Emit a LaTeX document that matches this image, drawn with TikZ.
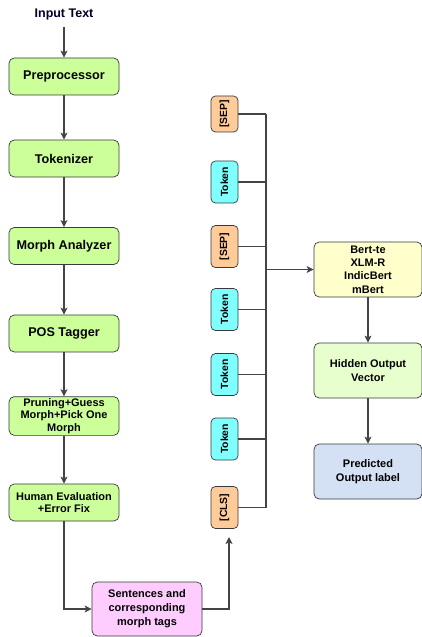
\documentclass[tikz,border=0pt]{standalone}
\usepackage{fontspec}
\setmainfont{Liberation Sans}
\usetikzlibrary{arrows.meta, positioning}
\definecolor{mdraw}{HTML}{36393D}
\definecolor{mline}{HTML}{444444}
\definecolor{mgreen}{HTML}{CCFF99}
\definecolor{mcyan}{HTML}{80FFFF}
\definecolor{morange}{HTML}{FFCC99}
\definecolor{mpink}{HTML}{FFCCFF}
\definecolor{myellow}{HTML}{FFFFCC}
\definecolor{mlightgreen}{HTML}{E6FFCC}
\definecolor{mblue}{HTML}{D4E1F5}
\tikzset{
  gbox/.style={draw=mdraw, fill=mgreen, rounded corners=3pt, align=center,
               minimum width=2.2cm, minimum height=0.74cm, inner sep=1pt,
               font=\fontsize{7.2}{8.6}\selectfont\bfseries},
  sgbox/.style={gbox, font=\fontsize{6.25}{7.1}\selectfont\bfseries},
  tbox/.style={draw=mdraw, fill=mcyan, rounded corners=2.5pt, rotate=90,
               minimum width=0.84cm, minimum height=0.54cm, inner sep=1pt,
               font=\fontsize{5.9}{7}\selectfont\bfseries},
  sepbox/.style={tbox, fill=morange},
  rbox/.style={draw=mdraw, rounded corners=3pt, align=center,
               minimum width=2.16cm, minimum height=1.1cm, inner sep=1pt,
               font=\fontsize{6.25}{7.6}\selectfont\bfseries},
  arr/.style={-{Stealth[length=4pt, width=4pt, inset=1pt]}, line width=0.6pt, mline},
  ln/.style={line width=0.6pt, mline},
}
\begin{document}
\begin{tikzpicture}
    \useasboundingbox (0,0) rectangle (8.44,-12.74);
    % left column
    \node[font=\fontsize{7.1}{8.5}\selectfont\bfseries, text=black!85!blue] (in) at (1.28,-0.30) {Input Text};
    \node[gbox] (pre) at (1.28,-1.53) {Preprocessor};
    \node[gbox] (tok) at (1.28,-3.17) {Tokenizer};
    \node[gbox] (morph) at (1.28,-4.92) {Morph Analyzer};
    \node[gbox] (pos) at (1.28,-6.67) {POS Tagger};
    \node[sgbox, minimum height=0.72cm] (prune) at (1.28,-8.32) {Pruning+Guess\\Morph+Pick One\\Morph};
    \node[sgbox] (human) at (1.28,-10.05) {Human Evaluation\\+Error Fix};
    \node[rbox, fill=mpink, minimum width=2.2cm, minimum height=1.08cm,
          font=\fontsize{6.25}{8}\selectfont\bfseries] (sent) at (2.94,-12.18) {Sentences and\\corresponding\\morph tags};

    \draw[arr] (in) -- (pre);
    \draw[arr] (pre) -- (tok);
    \draw[arr] (tok) -- (morph);
    \draw[arr] (morph) -- (pos);
    \draw[arr] (pos) -- (prune);
    \draw[arr] (prune) -- (human);
    \draw[arr] (human) |- (sent);

    % token column
    \node[sepbox, minimum width=0.72cm] (sep1) at (4.49,-2.28) {[SEP]};
    \node[tbox] (tok1) at (4.49,-3.64) {Token};
    \node[sepbox] (sep2) at (4.49,-4.93) {[SEP]};
    \node[tbox] (tok2) at (4.49,-6.19) {Token};
    \node[tbox] (tok3) at (4.49,-7.49) {Token};
    \node[tbox] (tok4) at (4.49,-8.78) {Token};
    \node[sepbox] (cls) at (4.49,-10.15) {[CLS]};
    \coordinate (clsin) at (4.58,-10.74);
    \coordinate (bus) at (5.32,0);

    \draw[arr] (sent) -| (clsin);
    \foreach \n in {sep1,tok1,sep2,tok2,tok3,tok4,cls}
      \draw[ln] (\n) -- (\n -| bus);
    \draw[ln] (sep1 -| bus) -- (cls -| bus);

    % model side
    \node[rbox, fill=myellow] (bert) at (7.36,-5.39) {Bert-te\\XLM-R\\IndicBert\\mBert};
    \node[rbox, fill=mlightgreen] (hid) at (7.36,-7.41) {Hidden Output\\Vector};
    \node[rbox, fill=mblue] (pred) at (7.36,-9.43) {Predicted\\Output label};

    \draw[arr] (bert.west -| bus) -- (bert.west);
    \draw[arr] (bert) -- (hid);
    \draw[arr] (hid) -- (pred);
\end{tikzpicture}
\end{document}
